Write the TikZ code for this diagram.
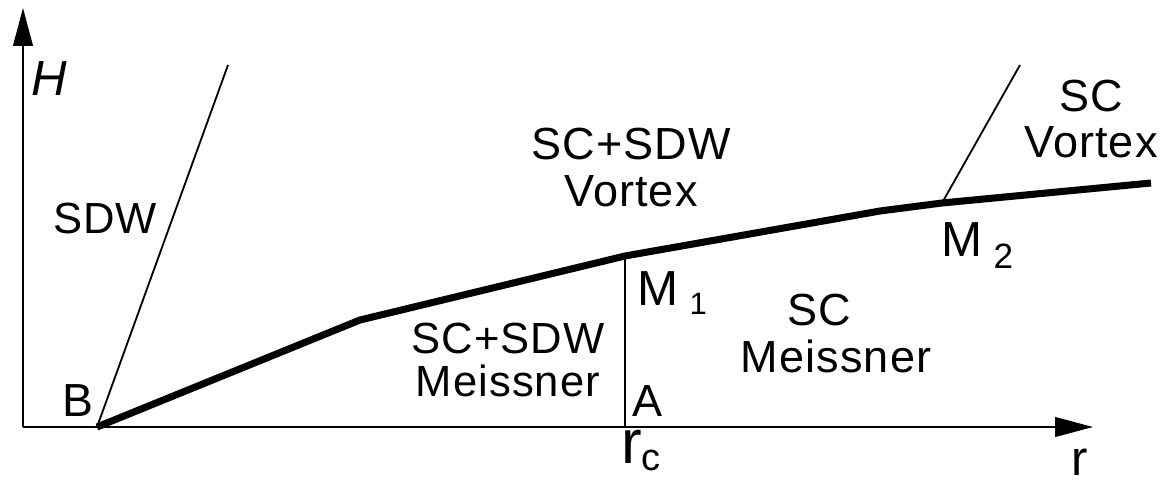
\documentclass[tikz,border=0pt]{standalone}
\usepackage{fontspec}
\setmainfont[LetterSpace=2.5]{Liberation Sans}
\usetikzlibrary{arrows.meta,positioning}

\begin{document}
\begin{tikzpicture}[
    x=0.025cm, y=-0.025cm,
    every node/.style={font=\fontsize{32}{33}\selectfont, inner sep=0pt},
    region/.style={align=center},
    axis/.style={-{Triangle[length=27pt,width=14pt]}, line width=1.4pt},
    border/.style={line width=5pt, line join=round},
    thin/.style={line width=1.3pt}
]
\useasboundingbox (0,0) rectangle (1167,486);
% axes
\coordinate (O) at (23,427);
\coordinate (Htip) at (23,8);
\coordinate (rtip) at (1093,427);
\draw[axis] (O) -- (Htip);
\draw[axis] (O) -- (rtip);
% special points
\coordinate (B) at (97,427);
\coordinate (K1) at (360,320);
\coordinate (M1) at (625,256);
\coordinate (K2) at (880,211);
\coordinate (M2) at (942,203);
\coordinate (E) at (1151,183);
\coordinate (A) at (625,427);
\coordinate (S) at (228,65);
\coordinate (V) at (1020,65);
% phase boundaries
\draw[thin] (B) -- (S);
\draw[thin] (M1) -- (A);
\draw[thin] (M2) -- (V);
\draw[border] (B) -- (K1) -- (M1) -- (K2) -- (M2) -- (E);
% labels
\node[font=\fontsize{35}{36}\selectfont\itshape] (Hlab) at (49,79) {H};
\node[anchor=base west, font=\fontsize{35}{36}\selectfont] (rlab) at (1071,475) {r};
\node[anchor=base west, font=\fontsize{44}{45}\selectfont] (rc) at (621,463) {r\raisebox{-5pt}{\fontsize{27}{27}\selectfont c}};
\node[font=\fontsize{33}{34}\selectfont] (Blab) at (78,401) {B};
\node (Alab) at (648,401) {A};
\node[anchor=base west, font=\fontsize{35}{36}\selectfont] (M1lab) at (637,305) {M\kern8pt\raisebox{-7pt}{\fontsize{22}{22}\selectfont 1}};
\node[anchor=base west, font=\fontsize{35}{36}\selectfont] (M2lab) at (941,257) {M\kern8pt\raisebox{-8pt}{\fontsize{25}{25}\selectfont 2}};
\node[font=\fontsize{31}{32}\selectfont] (sdw) at (105,218) {SDW};
\node[region, font=\fontsize{32}{33.3}\selectfont] (mix vortex) at (631,167.5) {SC+SDW\\Vortex};
\node[region, font=\fontsize{32}{32.6}\selectfont] (sc vortex) at (1091,119) {SC\\Vortex};
\node[region, font=\fontsize{31}{30}\selectfont] (mix meissner) at (508,360) {SC+SDW\\Meissner};
\node[region, font=\fontsize{32}{33.3}\selectfont] (sc meissner) at (836,333.5) {SC\hspace*{24pt}\\Meissner};
\end{tikzpicture}
\end{document}
